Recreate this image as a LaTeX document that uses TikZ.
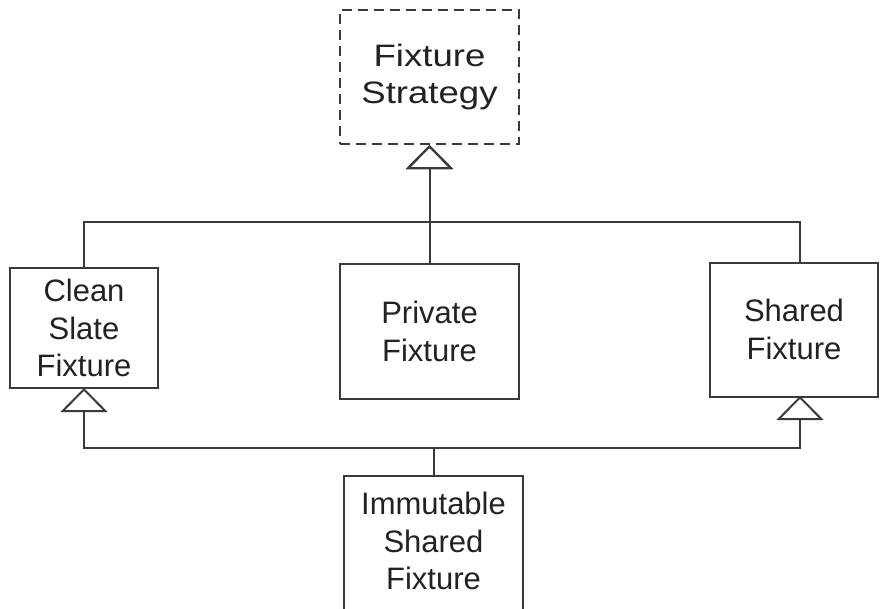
\documentclass[tikz,border=0pt]{standalone}
\usepackage{fontspec}
\setmainfont{Liberation Sans}
\newfontfamily\widefont[FakeStretch=1.18]{Liberation Sans}
\usetikzlibrary{arrows.meta}
\definecolor{lineC}{HTML}{3A3A3A}
\definecolor{textC}{HTML}{222222}
\tikzset{
  x=1pt, y=1pt,
  boxstyle/.style={draw=lineC, line width=2pt, fill=white, align=center,
    text=textC, font=\fontsize{31}{37.5}\selectfont, inner sep=0pt},
  gen/.style={draw=lineC, line width=2pt,
    -{Triangle[open, length=24pt, width=47pt, line width=2pt]}},
}
\begin{document}
\begin{tikzpicture}
\clip (0,0) rectangle (880,-608);
\fill[white] (0,0) rectangle (880,-608);
% nodes
\node (strategy) [boxstyle, dashed, dash pattern=on 10pt off 6pt,
  minimum width=179, minimum height=134,
  font=\widefont\fontsize{31}{37.5}\selectfont] at (429.5,-77) {Fixture\\Strategy};
\node (clean) [boxstyle, minimum width=148, minimum height=120] at (84,-328) {Clean\\Slate\\Fixture};
\node (private) [boxstyle, minimum width=179, minimum height=135] at (429.5,-331.5) {Private\\Fixture};
\node (shared) [boxstyle, minimum width=168, minimum height=134] at (794,-329.5) {Shared\\Fixture};
\node (imm) [boxstyle, minimum width=179, minimum height=150, anchor=north] at (433.5,-475) {};
\node (immtext) [align=center, text=textC, font=\fontsize{31}{37.5}\selectfont, inner sep=0pt] at (433.5,-541) {Immutable\\Shared\\Fixture};
% bus coordinates
\coordinate (busT) at (429.5,-222);
\coordinate (busB) at (433.5,-448);
\coordinate (cleanB) at (84,-388);
\coordinate (sharedB) at (800,-396);
\coordinate (sharedT) at (800,-262.5);
% generalisations to Fixture Strategy
\draw[gen] (clean.north) |- (busT) -- (strategy.south);
\draw[gen] (private.north) -- (strategy.south);
\draw[gen] (sharedT) |- (busT) -- (strategy.south);
% generalisations from Immutable Shared Fixture
\draw[gen] (imm.north) -- (busB) -| (cleanB);
\draw[gen] (imm.north) -- (busB) -| (sharedB);
\end{tikzpicture}
\end{document}
